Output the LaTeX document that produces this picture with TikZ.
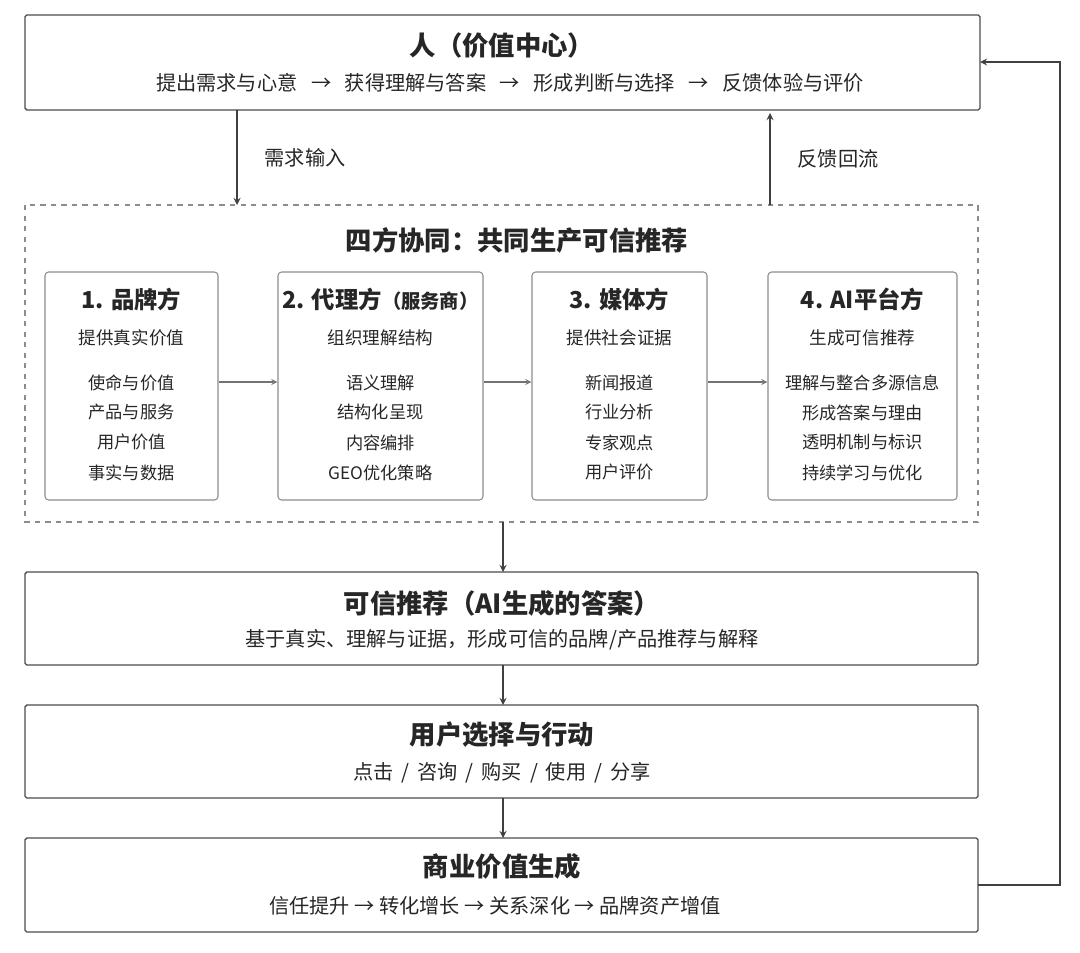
\documentclass[tikz,border=0pt]{standalone}
\usepackage{fontspec}
\setmainfont{Noto Sans CJK SC}
\usetikzlibrary{positioning}
\begin{document}
\begin{tikzpicture}[x=0.02cm,y=-0.02cm,>=stealth,
kuang/.style={draw=black!70,rounded corners=1pt,line width=0.8pt},
xiaokuang/.style={draw=black!45,rounded corners=2pt,line width=0.6pt,minimum width=#1,minimum height=4.56cm},
biaoti/.style={font=\fontsize{15}{17}\selectfont\bfseries,text=black!85},
zimu/.style={font=\fontsize{11.5}{13}\selectfont,text=black!85},
xiaozi/.style={font=\fontsize{9.8}{11}\selectfont,text=black!85}]
\useasboundingbox (0,0) rectangle (1080,953);
% top box
\draw[kuang] (25,15) rectangle (980,110);
\coordinate (ren-r) at (980,62);
\node[biaoti] (ren) at (502,45) {人（价值中心）};
\node[zimu] (ren-sub) at (510,83) {提出需求与心意 \ \ →\ \ \ 获得理解与答案 \ \ →\ \ \ 形成判断与选择 \ \ →\ \ \ 反馈体验与评价};
% dashed box
\draw[draw=black!45,dashed,line width=0.6pt] (25,205) rectangle (978,522);
\node[biaoti] (sifang) at (517,240) {四方协同：共同生产可信推荐};
\node[xiaokuang=3.46cm] (p1) at (131.5,386) {};
\node[xiaokuang=4.1cm] (p2) at (380.5,386) {};
\node[xiaokuang=3.5cm] (p3) at (619.5,386) {};
\node[xiaokuang=3.78cm] (p4) at (862.5,386) {};
\foreach \n/\t/\s/\a/\b/\c/\d in {p1/1. 品牌方/提供真实价值/使命与价值/产品与服务/用户价值/事实与数据,
  p2/2. 代理方{\fontsize{11}{13}\selectfont（服务商）}/组织理解结构/语义理解/结构化呈现/内容编排/GEO优化策略,
  p3/3. 媒体方/提供社会证据/新闻报道/行业分析/专家观点/用户评价,
  p4/4. AI平台方/生成可信推荐/理解与整合多源信息/形成答案与理由/透明机制与标识/持续学习与优化}{
  \node[biaoti,font=\fontsize{13.3}{16}\selectfont\bfseries] at ([yshift=-0.56cm]\n.north) {\t};
  \node[xiaozi,font=\fontsize{10}{11}\selectfont] at ([yshift=-1.32cm]\n.north) {\s};
  \node[xiaozi] at ([yshift=-2.22cm]\n.north) {\a};
  \node[xiaozi] at ([yshift=-2.82cm]\n.north) {\b};
  \node[xiaozi] at ([yshift=-3.42cm]\n.north) {\c};
  \node[xiaozi] at ([yshift=-4.02cm]\n.north) {\d};
}
% result boxes
\draw[kuang] (25,572) rectangle (978,665);
\node[biaoti] (tuijian) at (502,603) {可信推荐（AI生成的答案）};
\node[zimu] at (502,640) {基于真实、理解与证据，形成可信的品牌/产品推荐与解释};
\draw[kuang] (25,705) rectangle (978,798);
\node[biaoti] (xuanze) at (502,735) {用户选择与行动};
\node[zimu] at (502,773) {点击 \,/\, 咨询 \,/\, 购买 \,/\, 使用 \,/\, 分享};
\draw[kuang] (25,838) rectangle (978,932);
\node[biaoti] (shangye) at (502,866) {商业价值生成};
\node[zimu] at (495,906) {信任提升 → 转化增长 → 关系深化 → 品牌资产增值};
\coordinate (sy-r) at (978,885);
\coordinate (huiliu) at (1060,885);
% connectors
\begin{scope}[->,line width=0.8pt,draw=black!75]
 \draw (237,110)--(237,205) node[midway,right=12pt,zimu]{需求输入};
 \draw (770,205)--(770,113) node[midway,right=12pt,zimu]{反馈回流};
 \draw[draw=black!55,line width=0.6pt] (p1.east|-0,382)--(p2.west|-0,382);
 \draw[draw=black!55,line width=0.6pt] (p2.east|-0,382)--(p3.west|-0,382);
 \draw[draw=black!55,line width=0.6pt] (p3.east|-0,382)--(p4.west|-0,382);
 \draw (503,522)--(503,572);
 \draw (503,665)--(503,705);
 \draw (503,798)--(503,838);
 \draw (sy-r)--(huiliu)|-(ren-r);
\end{scope}
\end{tikzpicture}
\end{document}
